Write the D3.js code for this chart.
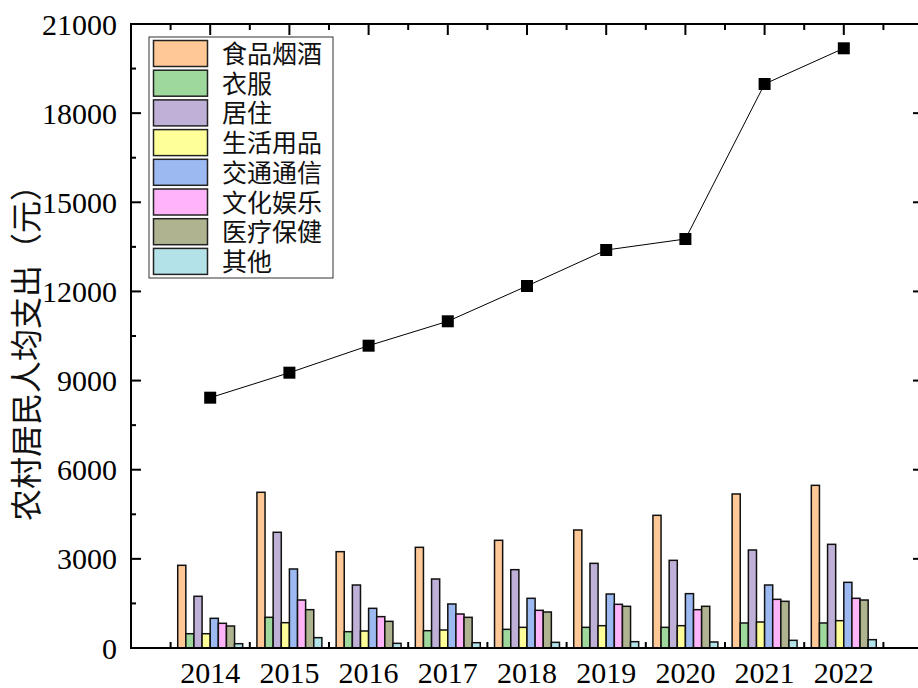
<!DOCTYPE html>
<html>
<head>
<meta charset="utf-8">
<script src="https://cdn.jsdelivr.net/npm/d3@7"></script>
<style>
  html, body { margin: 0; padding: 0; background: #fff; }
  svg { display: block; }
  .tick-label { font-family: "Liberation Serif", "Times New Roman", serif; font-size: 30px; fill: #000; }
  .cjk { font-family: "Noto Sans CJK SC", sans-serif; fill: #111; }
</style>
</head>
<body>
<svg id="chart" width="918" height="688"></svg>
<script>
// Rural per-capita consumption spending by category (元)
const years = ["2014", "2015", "2016", "2017", "2018", "2019", "2020", "2021", "2022"];
const categories = ["食品烟酒", "衣服", "居住", "生活用品", "交通通信", "文化娱乐", "医疗保健", "其他"];
const categoryColors = ["#ffc896", "#9fd89d", "#bfb0d8", "#ffff99", "#9cb9f2", "#ffb4fa", "#b0b38f", "#b3e2e8"];

const food      = [2783, 5240, 3242, 3388, 3624, 3971, 4465, 5183, 5474];
const clothing  = [ 481, 1033,  549,  583,  628,  695,  695,  842,  842];
const housing   = [1740, 3894, 2120, 2322, 2636, 2849, 2950, 3298, 3489];
const household = [ 481,  852,  572,  606,  695,  751,  751,  875,  920];
const transport = [ 999, 2659, 1335, 1481, 1672, 1817, 1829, 2120, 2210];
const culture   = [ 831, 1615, 1055, 1144, 1268, 1470, 1290, 1638, 1672];
const medical   = [ 740, 1290,  897, 1032, 1212, 1403, 1403, 1571, 1615];
const other     = [ 145,  348,  157,  179,  190,  213,  202,  258,  280];
const seriesValues = [food, clothing, housing, household, transport, culture, medical, other];

// Total per-capita spending shown as the line
const total = [8424, 9265, 10174, 10995, 12183, 13394, 13764, 18981, 20182];

const yTicks = [0, 3000, 6000, 9000, 12000, 15000, 18000, 21000];
const yTitle = "农村居民人均支出（元）";

const svg = d3.select("#chart");
const plotL = 131, plotR = 923, plotT = 24, plotB = 648;

const x0 = d3.scaleBand().domain(years).range([plotL, plotR]).paddingOuter(0.5).paddingInner(0);
const bw = x0.bandwidth();
const groupW = bw * 0.82;
const x1 = d3.scaleBand().domain(categories).range([(bw - groupW) / 2, (bw + groupW) / 2]);
const y = d3.scaleLinear().domain([0, 21000]).range([plotB, plotT]);

const minorY = d3.range(1500, 21000, 3000);

// tick marks (drawn beneath bars)
const ticks = svg.append("g").attr("stroke", "#000").attr("stroke-width", 2);
yTicks.forEach(v => {
  ticks.append("line").attr("x1", plotL).attr("x2", plotL + 10).attr("y1", y(v)).attr("y2", y(v));
  ticks.append("line").attr("x1", plotR).attr("x2", plotR - 10).attr("y1", y(v)).attr("y2", y(v));
});
minorY.forEach(v => {
  ticks.append("line").attr("x1", plotL).attr("x2", plotL + 5).attr("y1", y(v)).attr("y2", y(v));
  ticks.append("line").attr("x1", plotR).attr("x2", plotR - 5).attr("y1", y(v)).attr("y2", y(v));
});
years.forEach(yr => {
  const c = x0(yr) + bw / 2;
  ticks.append("line").attr("x1", c).attr("x2", c).attr("y1", plotB).attr("y2", plotB - 10);
  ticks.append("line").attr("x1", c).attr("x2", c).attr("y1", plotT).attr("y2", plotT + 11);
});
const bounds = years.map(yr => x0(yr)).concat([x0(years[years.length - 1]) + bw]);
bounds.forEach(b => {
  ticks.append("line").attr("x1", b).attr("x2", b).attr("y1", plotB).attr("y2", plotB - 6);
  ticks.append("line").attr("x1", b).attr("x2", b).attr("y1", plotT).attr("y2", plotT + 6);
});

// grouped bars
const groups = svg.append("g").selectAll("g").data(years).join("g")
  .attr("transform", d => `translate(${x0(d)},0)`);
groups.selectAll("rect")
  .data((d, i) => categories.map((c, k) => ({ c, k, v: seriesValues[k][i] })))
  .join("rect")
  .attr("x", d => x1(d.c))
  .attr("width", x1.bandwidth())
  .attr("y", d => y(d.v))
  .attr("height", d => y(0) - y(d.v))
  .attr("fill", d => categoryColors[d.k])
  .attr("stroke", "#111")
  .attr("stroke-width", 1.5);

// frame
svg.append("rect").attr("x", plotL).attr("y", plotT).attr("width", plotR - plotL).attr("height", plotB - plotT)
  .attr("fill", "none").attr("stroke", "#000").attr("stroke-width", 2);

// tick labels
svg.append("g").selectAll("text").data(yTicks).join("text")
  .attr("class", "tick-label")
  .attr("x", plotL - 14).attr("y", d => y(d)).attr("dy", "0.35em")
  .attr("text-anchor", "end").text(d => d);
svg.append("g").selectAll("text").data(years).join("text")
  .attr("class", "tick-label")
  .attr("x", d => x0(d) + bw / 2).attr("y", 683)
  .attr("text-anchor", "middle").text(d => d);

// y-axis title
svg.append("text").attr("class", "cjk")
  .attr("transform", "translate(38,345) rotate(-90)")
  .attr("text-anchor", "middle").attr("font-size", 32).text(yTitle);

// total line with square markers
const line = d3.line().x((d, i) => x0(years[i]) + bw / 2).y(d => y(d));
svg.append("path").datum(total).attr("d", line)
  .attr("fill", "none").attr("stroke", "#000").attr("stroke-width", 1);
svg.append("g").selectAll("rect").data(total).join("rect")
  .attr("x", (d, i) => x0(years[i]) + bw / 2 - 6)
  .attr("y", d => y(d) - 6)
  .attr("width", 12).attr("height", 12)
  .attr("fill", "#000");

// legend
const lg = svg.append("g").attr("transform", "translate(149,37)");
lg.append("rect").attr("width", 184).attr("height", 241)
  .attr("fill", "#fff").attr("stroke", "#333").attr("stroke-width", 1);
const rows = lg.selectAll("g").data(categories).join("g")
  .attr("transform", (d, i) => `translate(0,${3 + i * 29.7})`);
rows.append("rect").attr("x", 4.5).attr("y", 0.5).attr("width", 54).attr("height", 26)
  .attr("fill", (d, i) => categoryColors[i]).attr("stroke", "#222").attr("stroke-width", 1.5);
rows.append("text").attr("class", "cjk")
  .attr("x", 73).attr("y", 14).attr("dy", "0.36em")
  .attr("font-size", 25).text(d => d);
</script>
</body>
</html>
